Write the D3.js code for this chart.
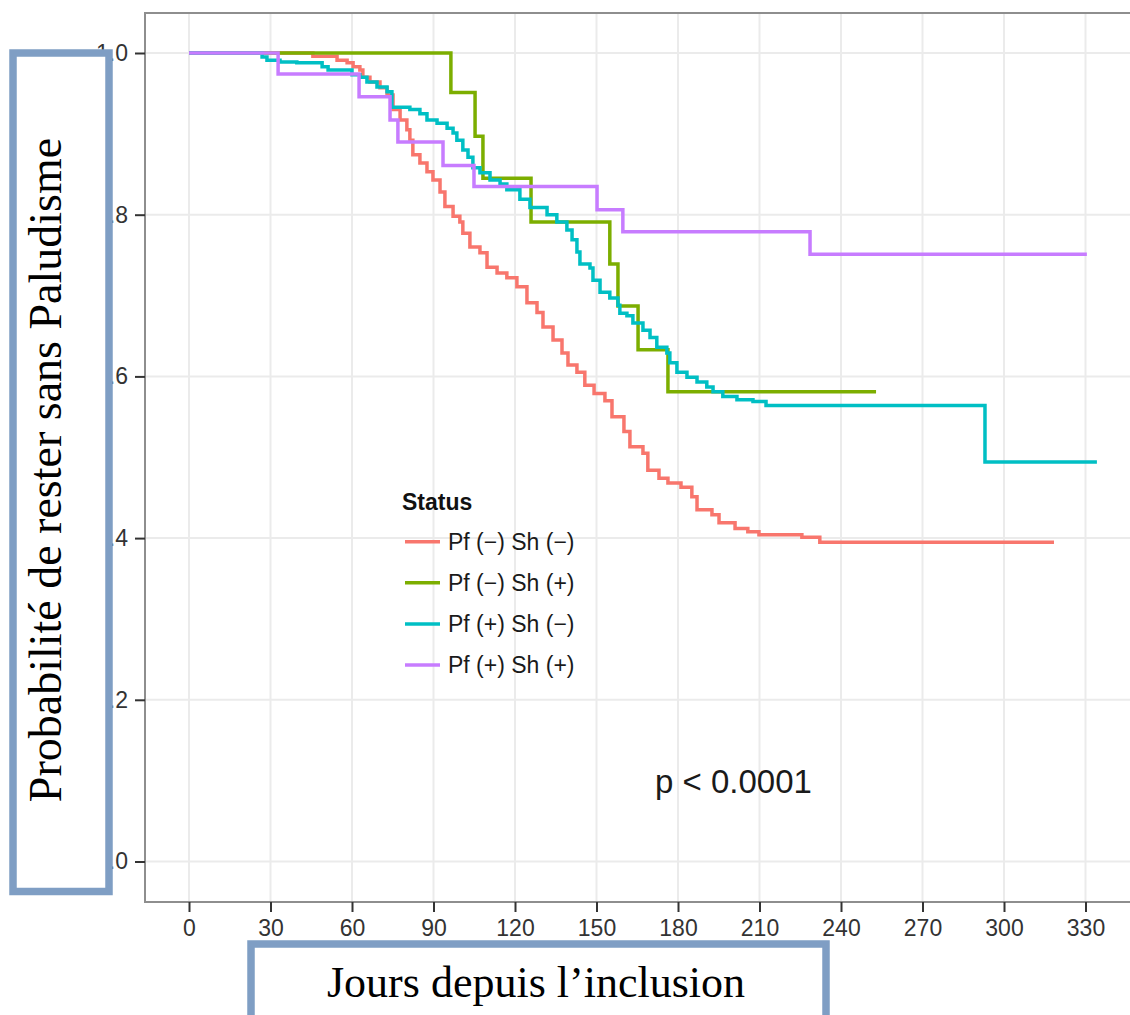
<!DOCTYPE html>
<html>
<head>
<meta charset="utf-8">
<script src="https://cdn.jsdelivr.net/npm/d3@7"></script>
<style>
  body { margin: 0; background: #fff; }
  svg { display: block; }
  .tick text { font-family: "Liberation Sans", Arial, sans-serif; fill: #333; }
</style>
</head>
<body>
<div id="chart"></div>
<script>
// DATA: day where each step starts, survival from there on
var groups = ['Pf (−) Sh (−)', 'Pf (−) Sh (+)', 'Pf (+) Sh (−)', 'Pf (+) Sh (+)'];
var colors = ['#F8766D', '#7CAE00', '#00BFC4', '#C77CFF'];

var redDays = [0, 45.6, 54.5, 58.2, 60.4, 62.9, 64.0, 66.6, 70.3, 72.9, 75.1, 77.7, 80.2, 81.3, 82.4,
  85.0, 87.6, 89.8, 92.4, 94.2, 97.2, 99.7, 100.8, 103.4, 107.1, 109.7, 113.4, 117.0, 120.7, 124.4,
  128.1, 130.3, 134.0, 137.3, 139.5, 142.8, 145.7, 149.1, 153.1, 155.7, 160.1, 162.3, 167.1, 168.9,
  173.0, 176.3, 181.1, 185.1, 187.0, 192.5, 195.1, 201.0, 205.7, 209.8, 225.6, 232.2, 318.4];
var redSurv = [1, 0.996, 0.991, 0.988, 0.983, 0.979, 0.970, 0.964, 0.957, 0.948, 0.930, 0.917, 0.905, 0.892, 0.874,
  0.864, 0.853, 0.843, 0.828, 0.810, 0.798, 0.791, 0.777, 0.760, 0.753, 0.735, 0.728, 0.722, 0.711, 0.691,
  0.679, 0.661, 0.645, 0.629, 0.614, 0.605, 0.589, 0.579, 0.570, 0.550, 0.532, 0.513, 0.505, 0.484,
  0.474, 0.468, 0.463, 0.451, 0.435, 0.429, 0.419, 0.412, 0.408, 0.404, 0.401, 0.395, 0.395];

var greenDays = [0, 96.4, 105.3, 108.2, 125.9, 154.9, 157.9, 165.3, 176.3, 252.9];
var greenSurv = [1, 0.951, 0.897, 0.845, 0.791, 0.739, 0.687, 0.633, 0.581, 0.581];

var cyanDays = [0, 26.9, 28.7, 33.5, 39.7, 49.0, 51.2, 60.0, 62.9, 65.5, 69.2, 72.9, 74.7, 81.3, 85.0,
  87.6, 91.3, 95.0, 97.2, 98.6, 100.8, 102.7, 104.5, 107.1, 110.8, 114.5, 117.0, 121.8, 125.5, 131.8,
  135.4, 139.1, 141.0, 142.8, 143.9, 147.6, 148.7, 151.3, 154.9, 157.9, 158.6, 161.2, 163.4, 167.1,
  169.7, 172.2, 175.9, 177.0, 179.6, 183.3, 187.0, 190.6, 192.9, 196.5, 201.7, 207.6, 212.4, 293.0, 334.2];
var cyanSurv = [1, 0.995, 0.991, 0.989, 0.988, 0.983, 0.979, 0.973, 0.970, 0.964, 0.958, 0.952, 0.933, 0.930, 0.925,
  0.917, 0.913, 0.907, 0.901, 0.892, 0.880, 0.871, 0.858, 0.852, 0.843, 0.838, 0.831, 0.819, 0.809, 0.800,
  0.791, 0.781, 0.769, 0.754, 0.739, 0.734, 0.719, 0.704, 0.697, 0.688, 0.678, 0.675, 0.666, 0.657,
  0.648, 0.636, 0.629, 0.617, 0.605, 0.599, 0.593, 0.587, 0.581, 0.575, 0.571, 0.569, 0.564, 0.494, 0.494];

var purpleDays = [0, 32.8, 62.6, 74.0, 76.9, 93.5, 104.9, 150.2, 159.7, 228.6, 330.5];
var purpleSurv = [1, 0.974, 0.946, 0.917, 0.890, 0.861, 0.835, 0.806, 0.779, 0.751, 0.751];

var xTicks = [0, 30, 60, 90, 120, 150, 180, 210, 240, 270, 300, 330];
var yTicks = [0, 0.2, 0.4, 0.6, 0.8, 1.0];
var pValue = 'p < 0.0001';
var yTitle = 'Probabilité de rester sans Paludisme';
var xTitle = 'Jours depuis l’inclusion';

var w = 1130,
    h = 1015;
var panel = { left: 145, top: 13, right: 1160, bottom: 902 };

var svg = d3.select('#chart').append('svg')
  .attr('width', w)
  .attr('height', h);

// SCALES
var xScale = d3.scaleLinear().domain([0, 330]).range([189, 1085.5]);
var yScale = d3.scaleLinear().domain([0, 1]).range([861.5, 53]);

// GRID
var grid = svg.append('g').attr('class', 'grid');
grid.selectAll('.gx').data(xTicks).enter().append('line')
  .attr('x1', function(d) { return xScale(d); })
  .attr('x2', function(d) { return xScale(d); })
  .attr('y1', panel.top).attr('y2', panel.bottom)
  .attr('stroke', '#ebebeb').attr('stroke-width', 2);
grid.selectAll('.gy').data(yTicks).enter().append('line')
  .attr('x1', panel.left).attr('x2', panel.right)
  .attr('y1', function(d) { return yScale(d); })
  .attr('y2', function(d) { return yScale(d); })
  .attr('stroke', '#ebebeb').attr('stroke-width', 2);

// PANEL BORDER
svg.append('rect')
  .attr('x', panel.left).attr('y', panel.top)
  .attr('width', panel.right - panel.left).attr('height', panel.bottom - panel.top)
  .attr('fill', 'none').attr('stroke', '#8e8e8e').attr('stroke-width', 2);

// AXES
var xAxis = d3.axisBottom(xScale).tickValues(xTicks).tickSize(10).tickSizeOuter(0).tickPadding(8);
var yAxis = d3.axisLeft(yScale).tickValues(yTicks).tickSize(10).tickSizeOuter(0).tickPadding(7)
  .tickFormat(d3.format('.1f'));

var gx = svg.append('g').attr('transform', 'translate(0,' + panel.bottom + ')').call(xAxis);
var gy = svg.append('g').attr('transform', 'translate(' + panel.left + ',0)').call(yAxis);
[gx, gy].forEach(function(g) {
  g.select('.domain').remove();
  g.selectAll('.tick line').attr('stroke', '#333').attr('stroke-width', 2);
  g.selectAll('.tick text').style('font-size', '23px');
});

// CURVES
var clip = svg.append('clipPath').attr('id', 'clip').append('rect')
  .attr('x', panel.left).attr('y', panel.top)
  .attr('width', panel.right - panel.left).attr('height', panel.bottom - panel.top);

var series = [
  { days: redDays, surv: redSurv },
  { days: greenDays, surv: greenSurv },
  { days: cyanDays, surv: cyanSurv },
  { days: purpleDays, surv: purpleSurv }
];

var line = d3.line()
  .x(function(d) { return xScale(d[0]); })
  .y(function(d) { return yScale(d[1]); })
  .curve(d3.curveStepAfter);

svg.append('g').attr('clip-path', 'url(#clip)')
  .selectAll('path').data(series).enter().append('path')
  .attr('d', function(s) { return line(d3.zip(s.days, s.surv)); })
  .attr('fill', 'none')
  .attr('stroke', function(s, i) { return colors[i]; })
  .attr('stroke-width', 3.5);

// LEGEND
var legend = svg.append('g').attr('font-family', '"Liberation Sans", Arial, sans-serif');
legend.append('text')
  .attr('x', 402).attr('y', 510)
  .attr('font-size', 23).attr('font-weight', 'bold').attr('fill', '#111')
  .text('Status');
var items = legend.selectAll('.item').data(groups).enter().append('g')
  .attr('transform', function(d, i) { return 'translate(0,' + (541.7 + i * 41.1) + ')'; });
items.append('line')
  .attr('x1', 405).attr('x2', 440)
  .attr('stroke', function(d, i) { return colors[i]; })
  .attr('stroke-width', 3.5);
items.append('text')
  .attr('x', 448).attr('dy', '0.35em')
  .attr('font-size', 23).attr('fill', '#1a1a1a')
  .text(function(d) { return d; });

// P VALUE
svg.append('text')
  .attr('x', 655).attr('y', 793)
  .attr('font-family', '"Liberation Sans", Arial, sans-serif')
  .attr('font-size', 33).attr('fill', '#1a1a1a')
  .text(pValue);

// TITLE BOXES
var boxColor = '#7f9ec4';
svg.append('rect')
  .attr('x', 13).attr('y', 53).attr('width', 96).attr('height', 838.5)
  .attr('fill', '#fff').attr('stroke', boxColor).attr('stroke-width', 7.5);
svg.append('text')
  .attr('transform', 'translate(61,470) rotate(-90)')
  .attr('text-anchor', 'middle')
  .attr('font-family', '"Liberation Serif", "DejaVu Serif", serif')
  .attr('font-size', 46).attr('fill', '#000')
  .text(yTitle);

svg.append('rect')
  .attr('x', 251).attr('y', 944).attr('width', 575).attr('height', 90)
  .attr('fill', '#fff').attr('stroke', boxColor).attr('stroke-width', 7.5);
svg.append('text')
  .attr('x', 536).attr('y', 997)
  .attr('text-anchor', 'middle')
  .attr('font-family', '"Liberation Serif", "DejaVu Serif", serif')
  .attr('font-size', 44).attr('fill', '#000')
  .text(xTitle);
</script>
</body>
</html>
